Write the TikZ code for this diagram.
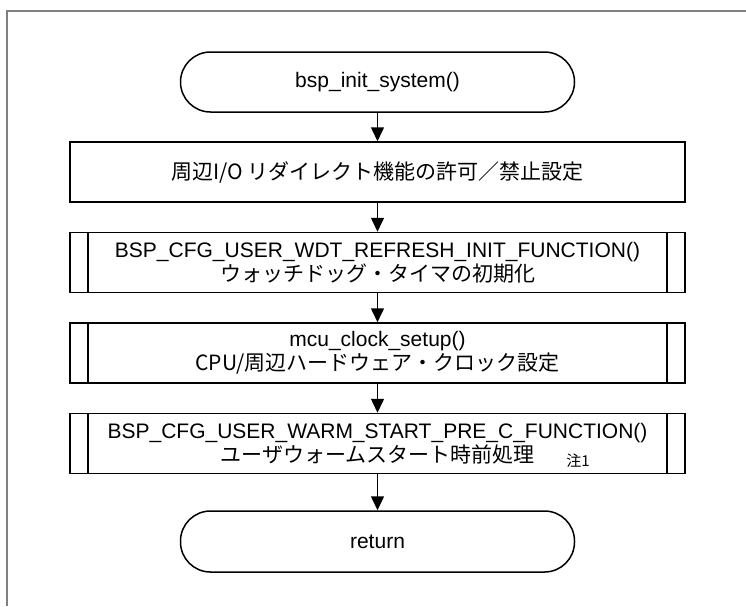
\documentclass[tikz,border=0pt]{standalone}
\usepackage{fontspec}
\setmainfont{Liberation Sans}
\newfontfamily\jpfont{Noto Sans CJK JP}
\usetikzlibrary{arrows.meta}

\begin{document}
\begin{tikzpicture}[x=1pt, y=-1pt, line width=1.5pt,
    every node/.style={font=\fontsize{21}{24}\selectfont, align=center, inner sep=0pt},
    term/.style={draw, rounded corners=30pt, minimum width=394pt, minimum height=60pt},
    procbox/.style={draw, minimum width=615pt, minimum height=60pt},
    subproc/.style={procbox, path picture={
      \draw[line width=1.5pt] ([xshift=18pt]path picture bounding box.north west)
        -- ([xshift=18pt]path picture bounding box.south west);
      \draw[line width=1.5pt] ([xshift=-18pt]path picture bounding box.north east)
        -- ([xshift=-18pt]path picture bounding box.south east);}},
    flow/.style={-{Triangle[length=14pt, width=13pt]}}]
    \useasboundingbox (0,0) rectangle (746,606);

    % draw outer frame
    \draw[color=gray, line width=2pt] (746,11) -- (7,11) -- (7,606);

    % draw terminals and steps
    \node[term] (start) at (377.5,82) {bsp\_init\_system()};
    \node[procbox] (redir) at (377.5,172) {\jpfont 周辺I/O リダイレクト機能の許可／禁止設定};
    \node[subproc] (wdt) at (377.5,262.5)
      {BSP\_CFG\_USER\_WDT\_REFRESH\_INIT\_FUNCTION()\\{\jpfont ウォッチドッグ・タイマの初期化}};
    \node[subproc] (clock) at (377.5,353)
      {mcu\_clock\_setup()\\{\jpfont CPU/周辺ハードウェア・クロック設定}};
    \node[subproc] (warm) at (377.5,443.5)
      {BSP\_CFG\_USER\_WARM\_START\_PRE\_C\_FUNCTION()\\{\jpfont ユーザウォームスタート時前処理}};
    \node[font=\fontsize{15}{17}\selectfont] (note) at (578,461) {\jpfont 注1};
    \node[term, minimum height=61pt] (ret) at (377.5,541.5) {return};

    % draw flow arrows
    \draw[flow] (start.south) -- (redir.north);
    \draw[flow] (redir.south) -- (wdt.north);
    \draw[flow] (wdt.south) -- (clock.north);
    \draw[flow] (clock.south) -- (warm.north);
    \draw[flow] (warm.south) -- (ret.north);

\end{tikzpicture}
\end{document}
